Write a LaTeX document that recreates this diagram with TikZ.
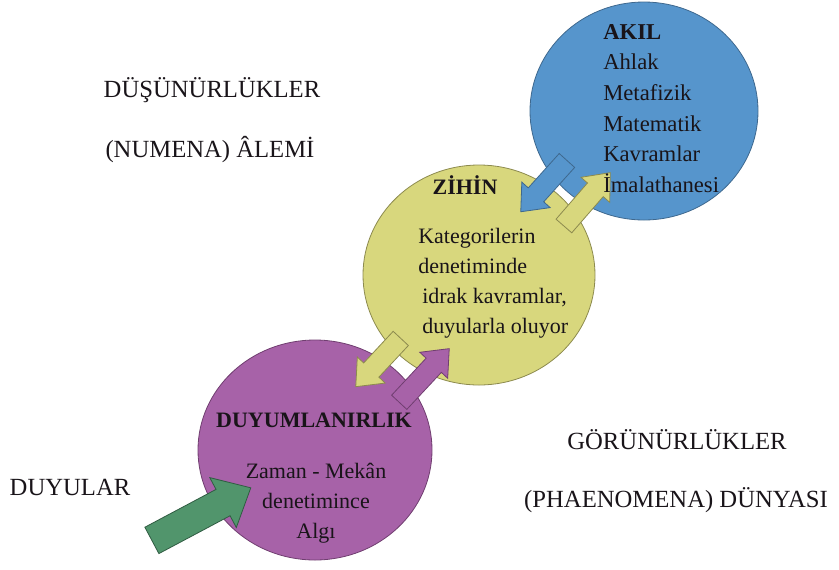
\documentclass[tikz,border=0pt]{standalone}
\usepackage{fontspec}
\setmainfont{Liberation Serif}
\usepackage{tikz}
\usetikzlibrary{shapes.geometric}
\usetikzlibrary{shapes.arrows}
\definecolor{akilblue}{RGB}{86,149,204}
\definecolor{akilline}{RGB}{62,104,142}
\definecolor{zihinyellow}{RGB}{216,215,125}
\definecolor{zihinline}{RGB}{140,138,78}
\definecolor{duyumpurple}{RGB}{167,98,168}
\definecolor{duyumline}{RGB}{112,62,112}
\definecolor{duyugreen}{RGB}{81,149,108}
\definecolor{duyuline}{RGB}{48,92,66}
\definecolor{diagramtext}{RGB}{25,20,25}

\begin{document}
\begin{tikzpicture}[x=0.75pt, y=-0.75pt,
    every node/.style={align=center, text=diagramtext},
    labelText/.style={font=\fontsize{18.5}{22}\selectfont},
    circleText/.style={inner sep=0pt, font=\fontsize{16.5}{22.5}\selectfont},
    titleText/.style={inner sep=0pt, font=\fontsize{16.5}{22.5}\selectfont\bfseries},
    circleShape/.style={ellipse, line width=0.6pt, inner sep=0pt},
    blockArrow/.style={single arrow, inner xsep=0pt, inner ysep=7.5pt, line width=0.6pt,
        single arrow head extend=6.5pt, single arrow tip angle=80, single arrow head indent=0pt}]

        \useasboundingbox (0,0) rectangle (839,569);

        % Circles
        \node[circleShape, fill=duyumpurple, draw=duyumline, minimum width=175.5pt, minimum height=165pt] (duyumCircle) at (315,450) {};
        \node[circleShape, fill=zihinyellow, draw=zihinline, minimum width=174pt, minimum height=165pt] (zihinCircle) at (479,275) {};
        \node[circleShape, fill=akilblue, draw=akilline, minimum width=171pt, minimum height=163.5pt] (akilCircle) at (644,111) {};

        % Arrows between the circles
        \node[blockArrow, fill=akilblue, draw=akilline, minimum height=51.75pt, rotate=228] (akilDown) at (548,181.5) {};
        \node[blockArrow, fill=zihinyellow, draw=zihinline, minimum height=53pt, rotate=49] (zihinUp) at (583,204) {};
        \node[blockArrow, fill=zihinyellow, draw=zihinline, minimum height=49.5pt, rotate=227] (zihinDown) at (382.5,358) {};
        \node[blockArrow, fill=duyumpurple, draw=duyumline, minimum height=55pt, rotate=47] (duyumUp) at (420,380) {};

        % Input arrow
        \node[blockArrow, fill=duyugreen, draw=duyuline, minimum height=84pt, inner ysep=10.9pt,
            single arrow head extend=10pt, single arrow tip angle=84, rotate=28] (duyuArrow) at (194,518) {};

        % Circle texts
        \node[circleText, font=\fontsize{17}{23}\selectfont, align=left, anchor=north west] (akilText) at (603,24) {%
            \textbf{AKIL}\\ Ahlak\\ Metafizik\\ Matematik\\ Kavramlar\\ İmalathanesi};
        \node[titleText] (zihinTitle) at (465,185) {ZİHİN};
        \node[circleText, align=left, anchor=north west] (zihinText) at (418,228) {%
            Kategorilerin\\ denetiminde\\ \hspace*{3pt}idrak kavramlar,\\ \hspace*{3pt}duyularla oluyor};
        \node[titleText] (duyumTitle) at (314,420) {DUYUMLANIRLIK};
        \node[circleText, anchor=north] (duyumText) at (316,463) {%
            Zaman - Mekân\\ denetimince\\ Algı};

        % Side labels
        \node[labelText] (dusunurText) at (212,90) {DÜŞÜNÜRLÜKLER};
        \node[labelText] (numenaText) at (210,150) {(NUMENA) ÂLEMİ};
        \node[labelText] (gorunurText) at (677,440) {GÖRÜNÜRLÜKLER};
        \node[labelText] (phaenomenaText) at (676,500) {(PHAENOMENA) DÜNYASI};
        \node[labelText] (duyularText) at (70,487) {DUYULAR};

    \end{tikzpicture}
\end{document}
